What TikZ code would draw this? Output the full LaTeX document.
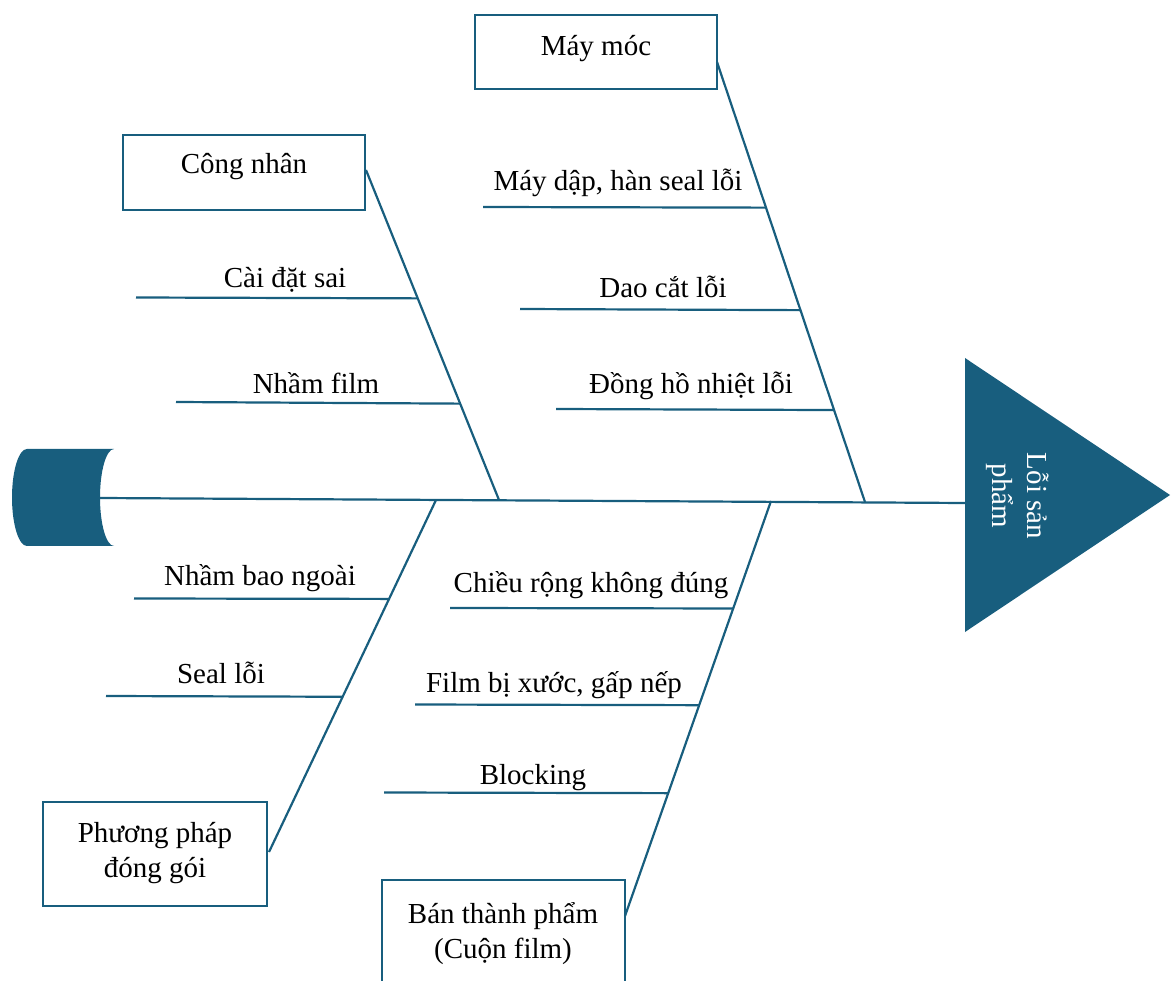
\documentclass[tikz,border=0pt]{standalone}
\usepackage{fontspec}
\setmainfont{Liberation Serif}
\usetikzlibrary{calc}
\definecolor{fishblue}{RGB}{24,94,126}
\begin{document}
\begin{tikzpicture}[x=1pt,y=-1pt,
  bone/.style={draw=fishblue,line width=2.2pt},
  twig/.style={draw=fishblue,line width=2.2pt},
  catbox/.style={draw=fishblue,line width=2.8pt,fill=white,rectangle,inner sep=0pt},
  lbl/.style={font=\fontsize{29}{35}\selectfont,inner sep=0pt,align=center,text=black,anchor=base},
]
\useasboundingbox (0,0) rectangle (1171,981);

% tail of the fish
\fill[fishblue] (27,546) .. controls (18.7,546) and (12,524.3) .. (12,497.5)
  .. controls (12,470.7) and (18.7,449) .. (27,449) -- (114,449)
  .. controls (106.3,449) and (100,470.7) .. (100,497.5)
  .. controls (100,524.3) and (106.3,546) .. (114,546) -- cycle;
\coordinate (tail) at (100,498);

% head of the fish
\fill[fishblue] (965,358) -- (1170,495) -- (965,632) -- cycle;
\coordinate (head) at (965,503);
\node[font=\fontsize{29}{35}\selectfont,text=white,align=center,inner sep=0pt,rotate=-90] (effect) at (1018,496) {Lỗi sản\\phẩm};

% backbone
\draw[bone] (tail) -- (head);

% category boxes (multi-line labels sit on the baseline of their last line)
\node[catbox,minimum width=242,minimum height=74] (mmBox) at (596,52) {};
\node[lbl] (mmText) at (596,56) {Máy móc};
\node[catbox,minimum width=242,minimum height=75] (cnBox) at (244,172.5) {};
\node[lbl] (cnText) at (244,174) {Công nhân};
\node[catbox,minimum width=224,minimum height=104] (ppBox) at (155,854) {};
\node[lbl] (ppText) at (155,877) {Phương pháp\\đóng gói};
\node[catbox,minimum width=243,minimum height=120] (btBox) at (503.5,940) {};
\node[lbl] (btText) at (503,958) {Bán thành phẩm\\(Cuộn film)};

% main bones: box -> backbone
\coordinate (mmA) at (717,62);   \coordinate (mmB) at (865,502);
\coordinate (cnA) at (366,170);  \coordinate (cnB) at (499,500);
\coordinate (ppA) at (269,852);  \coordinate (ppB) at (436,500);
\coordinate (btA) at (625,916);  \coordinate (btB) at (771,501);
\draw[bone] (mmA) -- (mmB);
\draw[bone] (cnA) -- (cnB);
\draw[bone] (ppA) -- (ppB);
\draw[bone] (btA) -- (btB);

% causes: Máy móc
\coordinate (m1L) at (483,207); \coordinate (m1R) at ($(mmA)!0.331!(mmB)$);
\coordinate (m2L) at (520,309); \coordinate (m2R) at ($(mmA)!0.564!(mmB)$);
\coordinate (m3L) at (556,409); \coordinate (m3R) at ($(mmA)!0.791!(mmB)$);
\draw[twig] (m1L) -- (m1R);
\draw[twig] (m2L) -- (m2R);
\draw[twig] (m3L) -- (m3R);
\node[lbl] (m1) at (618,191) {Máy dập, hàn seal lỗi};
\node[lbl] (m2) at (663,298) {Dao cắt lỗi};
\node[lbl] (m3) at (691,394) {Đồng hồ nhiệt lỗi};

% causes: Công nhân
\coordinate (c1L) at (136,297.5); \coordinate (c1R) at ($(cnA)!0.389!(cnB)$);
\coordinate (c2L) at (176,402);   \coordinate (c2R) at ($(cnA)!0.708!(cnB)$);
\draw[twig] (c1L) -- (c1R);
\draw[twig] (c2L) -- (c2R);
\node[lbl] (c1) at (285,288) {Cài đặt sai};
\node[lbl] (c2) at (316,394) {Nhầm film};

% causes: Phương pháp đóng gói
\coordinate (p1L) at (134,598.5); \coordinate (p1R) at ($(ppB)!0.281!(ppA)$);
\coordinate (p2L) at (106,696);   \coordinate (p2R) at ($(ppB)!0.559!(ppA)$);
\draw[twig] (p1L) -- (p1R);
\draw[twig] (p2L) -- (p2R);
\node[lbl] (p1) at (260,585) {Nhầm bao ngoài};
\node[lbl] (p2) at (221,683) {Seal lỗi};

% causes: Bán thành phẩm
\coordinate (b1L) at (450,608); \coordinate (b1R) at ($(btB)!0.259!(btA)$);
\coordinate (b2L) at (415,704.5); \coordinate (b2R) at ($(btB)!0.492!(btA)$);
\coordinate (b3L) at (384,792.5); \coordinate (b3R) at ($(btB)!0.704!(btA)$);
\draw[twig] (b1L) -- (b1R);
\draw[twig] (b2L) -- (b2R);
\draw[twig] (b3L) -- (b3R);
\node[lbl] (b1) at (591,592) {Chiều rộng không đúng};
\node[lbl] (b2) at (554,692) {Film bị xước, gấp nếp};
\node[lbl] (b3) at (533,784) {Blocking};
\end{tikzpicture}
\end{document}
